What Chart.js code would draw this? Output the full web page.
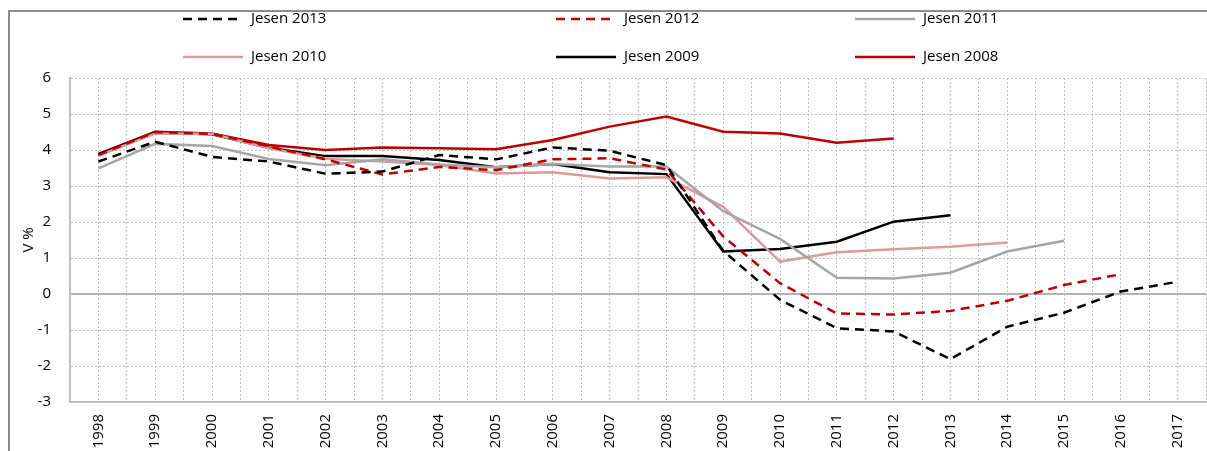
<!DOCTYPE html>
<html>
<head>
<meta charset="utf-8">
<script src="https://cdn.jsdelivr.net/npm/chart.js@4/dist/chart.umd.min.js"></script>
<style>
  html, body { margin: 0; padding: 0; background: #fff; overflow: hidden; }
  #wrap { position: relative; width: 1207px; height: 451px; }
  #frame { position: absolute; left: 8px; top: 10px; width: 1400px; height: 600px;
           border-left: 2px solid #8c8c8c; border-top: 2px solid #8c8c8c; }
  canvas { position: absolute; left: 0; top: 0; }
</style>
</head>
<body>
<div id="wrap">
  <div id="frame"></div>
  <canvas id="chart" width="1207" height="451"></canvas>
</div>
<script>
// ── Data ─────────────────────────────────────────────────────────────────────

const years = [1998, 1999, 2000, 2001, 2002, 2003, 2004, 2005, 2006, 2007,
               2008, 2009, 2010, 2011, 2012, 2013, 2014, 2015, 2016, 2017];

const jesen2013 = [3.68, 4.23, 3.81, 3.68, 3.34, 3.40, 3.86, 3.74, 4.07, 3.98,
                   3.58, 1.20, -0.16, -0.95, -1.04, -1.81, -0.91, -0.52, 0.07, 0.34];
const jesen2012 = [3.86, 4.50, 4.45, 4.10, 3.74, 3.32, 3.53, 3.44, 3.74, 3.77,
                   3.46, 1.60, 0.30, -0.54, -0.57, -0.47, -0.19, 0.25, 0.55, null];
const jesen2011 = [3.49, 4.17, 4.11, 3.75, 3.58, 3.74, 3.60, 3.52, 3.61, 3.54,
                   3.54, 2.30, 1.53, 0.45, 0.43, 0.59, 1.18, 1.48, null, null];
const jesen2010 = [3.84, 4.46, 4.45, 4.05, 3.76, 3.68, 3.58, 3.35, 3.38, 3.21,
                   3.24, 2.42, 0.90, 1.16, 1.24, 1.31, 1.43, null, null, null];
const jesen2009 = [3.88, 4.48, 4.44, 4.06, 3.83, 3.83, 3.72, 3.52, 3.61, 3.38,
                   3.33, 1.18, 1.25, 1.45, 2.01, 2.19, null, null, null, null];
const jesen2008 = [3.89, 4.51, 4.46, 4.14, 4.00, 4.07, 4.05, 4.02, 4.28, 4.65,
                   4.93, 4.51, 4.46, 4.20, 4.32, null, null, null, null, null];

const seriesNames = ['Jesen 2013', 'Jesen 2012', 'Jesen 2011', 'Jesen 2010', 'Jesen 2009', 'Jesen 2008'];
const seriesValues = [jesen2013, jesen2012, jesen2011, jesen2010, jesen2009, jesen2008];
const seriesColors = ['#000000', '#c00000', '#a6a6a6', '#dc9a9a', '#000000', '#c00000'];
const seriesDashed = [true, true, false, false, false, false];

const yTicks = { min: -3, max: 6, step: 1 };

const FONT = '"Open Sans", "Noto Sans", sans-serif';

// ── Legend (drawn on canvas, 3 columns x 2 rows) ─────────────────────────────

const legendPlugin = {
    id: 'gridLegend',
    afterDraw(chart) {
        const ctx = chart.ctx;
        const colX = [183, 556, 855];
        const rowY = [19, 57];
        chart.data.datasets.forEach((ds, i) => {
            const x = colX[i % 3];
            const y = rowY[Math.floor(i / 3)];
            ctx.save();
            ctx.strokeStyle = ds.borderColor;
            ctx.lineWidth = 2.5;
            ctx.setLineDash(ds.borderDash || []);
            ctx.beginPath();
            ctx.moveTo(x, y);
            ctx.lineTo(x + 60, y);
            ctx.stroke();
            ctx.setLineDash([]);
            ctx.fillStyle = '#000';
            ctx.font = `15px ${FONT}`;
            ctx.textBaseline = 'middle';
            ctx.fillText(ds.label, x + 68, y);
            ctx.restore();
        });
    }
};

// ── Chart ────────────────────────────────────────────────────────────────────

const datasets = seriesNames.map((name, i) => ({
    label: name,
    data: years.map((yr, j) => ({ x: yr, y: seriesValues[i][j] })),
    borderColor: seriesColors[i],
    borderWidth: 2.5,
    borderDash: seriesDashed[i] ? [9, 6] : [],
    pointRadius: 0,
    fill: false,
    tension: 0,
    spanGaps: false,
}));

new Chart(document.getElementById('chart').getContext('2d'), {
    type: 'line',
    data: { datasets },
    plugins: [legendPlugin],
    options: {
        responsive: false,
        animation: false,
        layout: { padding: { top: 78, left: 20, right: 1, bottom: 0 } },
        plugins: {
            legend: { display: false },
            tooltip: { enabled: false },
        },
        scales: {
            x: {
                type: 'linear',
                min: years[0] - 0.5,
                max: years[years.length - 1] + 0.5,
                afterFit: s => { s.height = 49; s.paddingLeft = 0; s.paddingRight = 0; },
                ticks: {
                    stepSize: 0.5,
                    autoSkip: false,
                    minRotation: 90,
                    maxRotation: 90,
                    padding: 12,
                    color: '#000',
                    font: { family: FONT, size: 15 },
                    callback: v => Number.isInteger(v) ? String(v) : '',
                },
                grid: { color: '#bfbfbf', lineWidth: 1, drawTicks: false },
                border: { display: true, color: '#bfbfbf', width: 2, dash: [2, 2] },
            },
            y: {
                min: yTicks.min,
                max: yTicks.max,
                afterFit: s => { s.width = 50; },
                ticks: {
                    stepSize: yTicks.step,
                    padding: 19,
                    color: '#000',
                    font: { family: FONT, size: 15 },
                },
                title: {
                    display: true,
                    text: 'V %',
                    color: '#000',
                    font: { family: FONT, size: 15 },
                    padding: { top: 0, bottom: 0 },
                },
                grid: {
                    drawTicks: false,
                    color: c => c.tick && c.tick.value === 0 ? '#b3b3b3' : '#bfbfbf',
                    lineWidth: c => c.tick && c.tick.value === 0 ? 2 : 1,
                },
                border: {
                    display: true, color: '#bfbfbf', width: 2,
                    dash: c => c.tick && c.tick.value === 0 ? [] : [2, 2],
                },
            },
        },
    },
});
</script>
</body>
</html>
